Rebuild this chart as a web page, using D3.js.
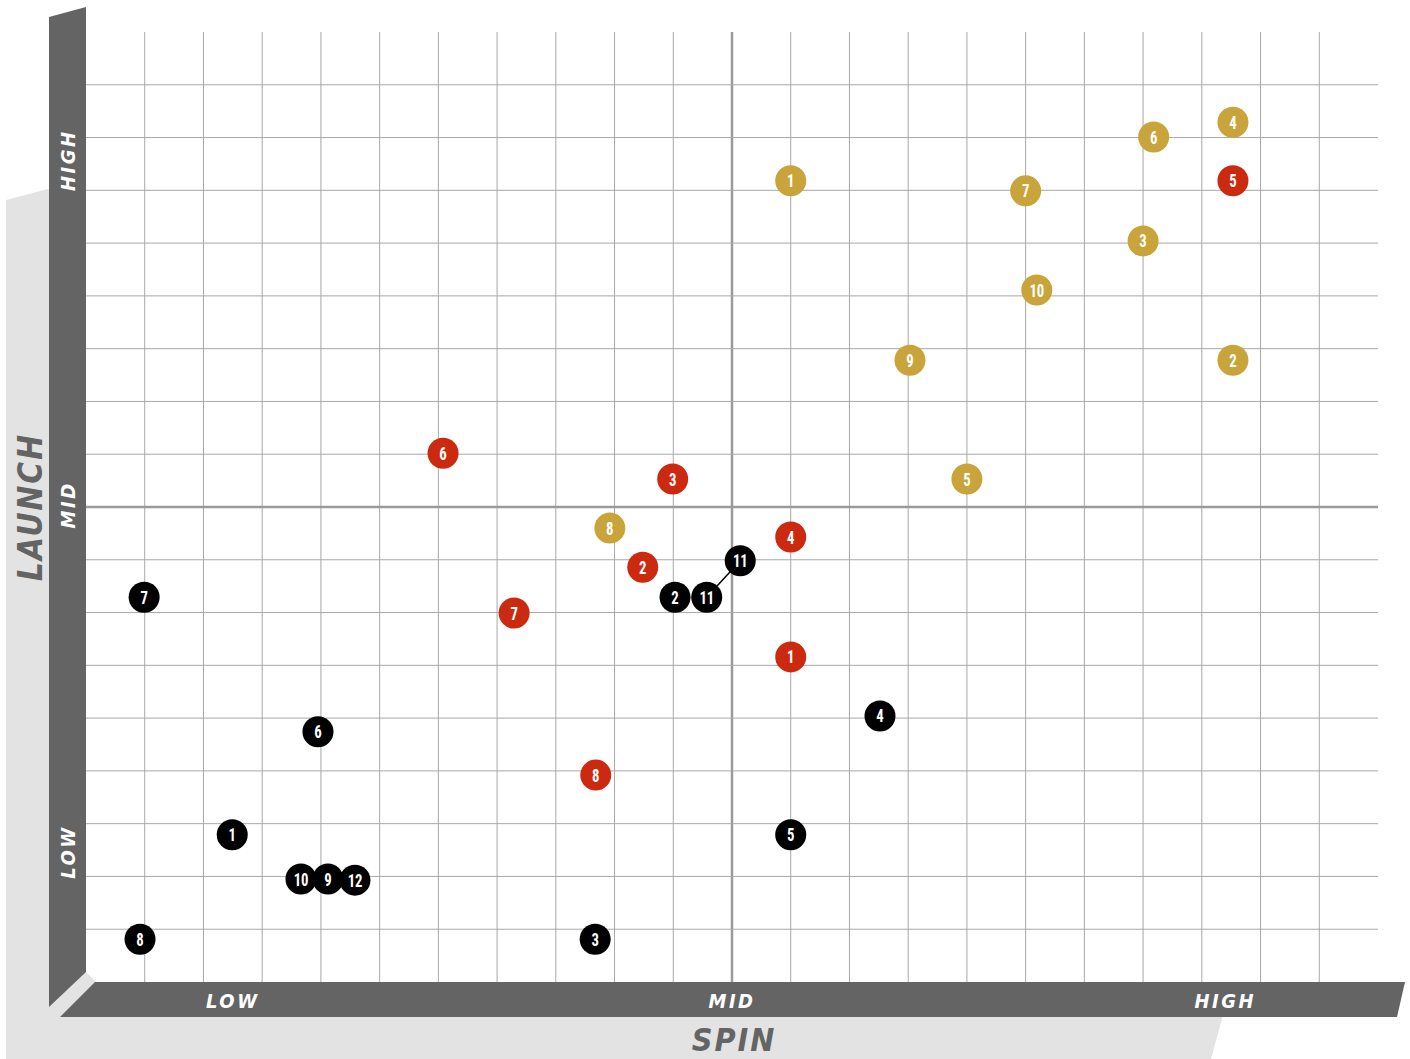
<!DOCTYPE html>
<html><head><meta charset="utf-8">
<script src="https://cdn.jsdelivr.net/npm/d3@7"></script>
<style>
html,body{margin:0;padding:0;background:#fff;}
svg{display:block;}
text{font-family:"DejaVu Sans Condensed","DejaVu Sans",sans-serif;font-stretch:condensed;}
text.mk{font-family:Roboto,"DejaVu Sans",sans-serif;}
</style></head>
<body>
<svg id="chart" width="1410" height="1059"></svg>
<script>
// ---- data (spin, launch on a 0..22 x 0..18 grid) ----
const goldLabels  = ["4","6","1","7","3","10","9","2","5","8"];
const goldSpin    = [19.53,18.18,12.0,16.0,18.0,16.19,14.03,19.53,15.0,8.92];
const goldLaunch  = [16.29,16.01,15.18,14.99,14.04,13.11,11.78,11.78,9.53,8.60];

const redLabels   = ["5","6","3","4","2","7","1","8"];
const redSpin     = [19.53,6.08,9.99,12.0,9.48,7.29,12.0,8.68];
const redLaunch   = [15.18,10.02,9.53,8.43,7.86,6.99,6.16,3.92];

const blackLabels = ["7","11","2","11","4","6","1","5","10","9","12","8","3"];
const blackSpin   = [0.99,11.14,10.03,10.57,13.52,3.95,2.49,12.0,3.66,4.12,4.58,0.92,8.67];
const blackLaunch = [7.29,7.98,7.29,7.29,5.04,4.74,2.79,2.79,1.95,1.95,1.93,0.81,0.81];

// leader line between the two black "11" markers (indices in black arrays)
const leader = [3, 1];

const tickLabels = ["LOW","MID","HIGH"];
const spinTickVals = [2.5, 11, 19.4];
const launchTickVals = [2.46, 9.04, 15.57];

const colors = {gold:"#c9a43b", red:"#cc2a10", black:"#000000"};

// ---- scales ----
const x = d3.scaleLinear().domain([0,22]).range([86,1378]);
const y = d3.scaleLinear().domain([0,18]).range([982,32]);

const svg = d3.select("#chart");
const barColor = "#646464";
const bgGray = "#e3e3e3";

// light gray backdrop
svg.append("polygon")
  .attr("points", [[6,200],[86,179],[86,982],[1232,982],[1211,1059],[6,1059]].join(" "))
  .attr("fill", bgGray);

// plot white area
svg.append("rect").attr("x",86).attr("y",0).attr("width",1324).attr("height",982).attr("fill","#fff");
svg.append("polygon").attr("points",[[86,972],[86,982],[96,982]].join(" ")).attr("fill",bgGray);

// grid
const g = svg.append("g");
g.selectAll("line.v").data(d3.range(1,22)).join("line")
  .attr("x1",d=>x(d)).attr("x2",d=>x(d)).attr("y1",y(18)).attr("y2",y(0))
  .attr("stroke", d=>d===11?"#9a9a9a":"#a8a8a8")
  .attr("stroke-width", d=>d===11?2.5:1);
g.selectAll("line.h").data(d3.range(1,18)).join("line")
  .attr("y1",d=>y(d)).attr("y2",d=>y(d)).attr("x1",x(0)).attr("x2",x(22))
  .attr("stroke", d=>d===9?"#9a9a9a":"#a8a8a8")
  .attr("stroke-width", d=>d===9?2.5:1);

// axis bars
svg.append("polygon")
  .attr("points", [[49,17],[86,7],[86,972],[49,1007]].join(" "))
  .attr("fill", barColor);
svg.append("polygon")
  .attr("points", [[95,982],[1405,982],[1397,1017],[60,1017]].join(" "))
  .attr("fill", barColor);

// bottom tick labels
svg.selectAll("text.xt").data(tickLabels).join("text")
  .attr("x",(d,i)=>x(spinTickVals[i])).attr("y",1008)
  .attr("text-anchor","middle")
  .attr("font-weight","bold").attr("font-style","italic")
  .attr("font-size",20).attr("letter-spacing",2.5).attr("fill","#fff")
  .text(d=>d);
// left tick labels
svg.selectAll("text.yt").data(tickLabels).join("text")
  .attr("transform",(d,i)=>`translate(75,${y(launchTickVals[i])}) rotate(-90)`)
  .attr("text-anchor","middle")
  .attr("font-weight","bold").attr("font-style","italic")
  .attr("font-size",20).attr("letter-spacing",2.5).attr("fill","#fff")
  .text(d=>d);

// axis titles
svg.append("text").attr("x",734).attr("y",1051).attr("text-anchor","middle")
  .attr("font-style","italic").attr("font-weight","bold")
  .attr("font-size",32).attr("letter-spacing",2).attr("fill",barColor).text("SPIN");
svg.append("text").attr("transform",`translate(42,${y(9)}) rotate(-90)`).attr("text-anchor","middle")
  .attr("font-style","italic").attr("font-weight","bold")
  .attr("font-size",33).attr("letter-spacing",2).attr("fill",barColor).text("LAUNCH");

// leader line
svg.append("line")
  .attr("x1",x(blackSpin[leader[0]])).attr("y1",y(blackLaunch[leader[0]]))
  .attr("x2",x(blackSpin[leader[1]])).attr("y2",y(blackLaunch[leader[1]]))
  .attr("stroke","#000").attr("stroke-width",1.5);

function drawSeries(labels, sx, sy, color){
  const data = labels.map((l,i)=>({l, sx:sx[i], sy:sy[i]}));
  const gg = svg.append("g");
  const node = gg.selectAll("g").data(data).join("g")
    .attr("transform",d=>`translate(${x(d.sx)},${y(d.sy)})`);
  node.append("circle").attr("r",15.5).attr("fill",color);
  node.append("text").attr("class","mk").attr("text-anchor","middle").attr("dy","0.36em")
    .attr("transform","scale(0.82,1)")
    .attr("font-weight","bold")
    .attr("font-size",18).attr("fill","#fff").attr("letter-spacing",d=>d.l.length>1?-0.3:0)
    .text(d=>d.l);
}
drawSeries(goldLabels, goldSpin, goldLaunch, colors.gold);
drawSeries(redLabels, redSpin, redLaunch, colors.red);
drawSeries(blackLabels, blackSpin, blackLaunch, colors.black);
</script>
</body></html>
